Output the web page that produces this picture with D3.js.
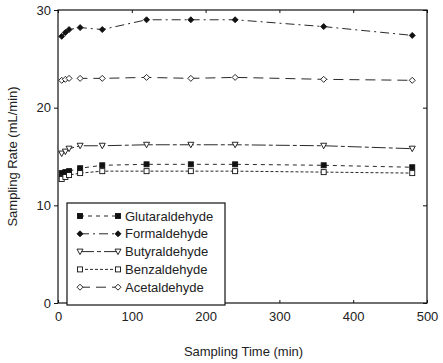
<!DOCTYPE html>
<html>
<head>
<meta charset="utf-8">
<script src="https://cdn.jsdelivr.net/npm/d3@7"></script>
<style>
  body { margin: 0; background: #fff; }
  svg { display: block; font-family: "Liberation Sans", Arial, sans-serif; }
</style>
</head>
<body>
<div id="chart"></div>
<script>
// ------------------
// Data
// ------------------
const times = [5, 10, 15, 30, 60, 120, 180, 240, 360, 480];
const glutaraldehyde = [13.3, 13.4, 13.5, 13.8, 14.1, 14.2, 14.2, 14.2, 14.1, 13.9];
const formaldehyde = [27.3, 27.7, 28.0, 28.2, 28.0, 29.0, 29.0, 29.0, 28.3, 27.4];
const butyraldehyde = [15.3, 15.5, 15.8, 16.1, 16.1, 16.2, 16.2, 16.2, 16.1, 15.8];
const benzaldehyde = [12.7, 12.9, 13.1, 13.3, 13.5, 13.5, 13.5, 13.5, 13.4, 13.3];
const acetaldehyde = [22.8, 22.9, 23.0, 23.0, 23.0, 23.1, 23.0, 23.1, 22.9, 22.8];
const xTicks = [0, 100, 200, 300, 400, 500];
const yTicks = [0, 10, 20, 30];

const series = [
  { name: "Glutaraldehyde", values: glutaraldehyde, marker: "square", fill: true, dash: "4,4" },
  { name: "Formaldehyde", values: formaldehyde, marker: "diamond", fill: true, dash: "9,4,2,4" },
  { name: "Butyraldehyde", values: butyraldehyde, marker: "triangle", fill: false, dash: "14,3,4,3" },
  { name: "Benzaldehyde", values: benzaldehyde, marker: "square", fill: false, dash: "3,2" },
  { name: "Acetaldehyde", values: acetaldehyde, marker: "diamond", fill: false, dash: "10,6" }
];

// ------------------
// Layout
// ------------------
const W = 443, H = 363;
const mLeft = 58, mRight = 427, mTop = 10, mBottom = 303;

const svg = d3.select("#chart").append("svg")
  .attr("width", W).attr("height", H);

const x = d3.scaleLinear().domain([0, 500]).range([mLeft, mRight]);
const y = d3.scaleLinear().domain([0, 30]).range([mBottom, mTop]);

const ink = "#111";

// frame
svg.append("rect")
  .attr("x", mLeft).attr("y", mTop)
  .attr("width", mRight - mLeft).attr("height", mBottom - mTop)
  .attr("fill", "none").attr("stroke", ink).attr("stroke-width", 1.2);

// axes
svg.append("g")
  .attr("transform", `translate(0,${mBottom})`)
  .call(d3.axisBottom(x).tickValues(xTicks).tickSizeInner(-3).tickSizeOuter(0).tickPadding(9));
svg.append("g")
  .attr("transform", `translate(${mLeft},0)`)
  .call(d3.axisLeft(y).tickValues(yTicks).tickSize(4).tickSizeOuter(0).tickPadding(3));
// inward ticks on top/right
svg.append("g").attr("transform", `translate(0,${mTop})`)
  .call(d3.axisTop(x).tickValues(xTicks).tickSizeInner(-3).tickSizeOuter(0).tickFormat(""));
svg.append("g").attr("transform", `translate(${mRight},0)`)
  .call(d3.axisRight(y).tickValues(yTicks).tickSizeInner(-4).tickSizeOuter(0).tickFormat(""));

svg.selectAll(".domain").remove();
svg.selectAll(".tick line").attr("stroke", ink);
svg.selectAll(".tick text")
  .attr("fill", "#222").style("font-size", "13px")
  .style("font-family", "'Liberation Sans', Arial, sans-serif");

// axis titles
svg.append("text")
  .attr("x", (mLeft + mRight) / 2 + 1).attr("y", 356)
  .attr("text-anchor", "middle").attr("fill", "#222")
  .style("font-size", "13px")
  .text("Sampling Time (min)");
svg.append("text")
  .attr("transform", `translate(17,${(mTop + mBottom) / 2}) rotate(-90)`)
  .attr("text-anchor", "middle").attr("fill", "#222")
  .style("font-size", "13px")
  .text("Sampling Rate (mL/min)");

// ------------------
// Markers
// ------------------
function drawMarker(g, type, filled, cx, cy) {
  let el;
  if (type === "square") {
    el = g.append("rect").attr("x", cx - 2.5).attr("y", cy - 2.5).attr("width", 5).attr("height", 5);
  } else if (type === "diamond") {
    el = g.append("path").attr("d", `M${cx},${cy - 3}L${cx + 3},${cy}L${cx},${cy + 3}L${cx - 3},${cy}Z`);
  } else {
    el = g.append("path").attr("d", `M${cx - 3},${cy - 2.5}L${cx + 3},${cy - 2.5}L${cx},${cy + 3}Z`);
  }
  el.attr("fill", filled ? ink : "#fff").attr("stroke", ink).attr("stroke-width", 0.9);
}

const line = d3.line().x(d => x(d[0])).y(d => y(d[1]));

series.forEach(s => {
  const pts = times.map((t, i) => [t, s.values[i]]);
  const g = svg.append("g");
  g.append("path")
    .attr("d", line(pts))
    .attr("fill", "none").attr("stroke", ink)
    .attr("stroke-width", 0.9).attr("stroke-dasharray", s.dash);
  pts.forEach(p => drawMarker(g, s.marker, s.fill, x(p[0]), y(p[1])));
});

// ------------------
// Legend
// ------------------
const lg = svg.append("g");
lg.append("rect")
  .attr("x", 67).attr("y", 203).attr("width", 158).attr("height", 102)
  .attr("fill", "#fff").attr("stroke", ink).attr("stroke-width", 1.2);

series.forEach((s, i) => {
  const ly = 216 + i * 17.8;
  lg.append("line")
    .attr("x1", 80).attr("x2", 118).attr("y1", ly).attr("y2", ly)
    .attr("stroke", ink).attr("stroke-width", 0.9).attr("stroke-dasharray", s.dash);
  drawMarker(lg, s.marker, s.fill, 80, ly);
  drawMarker(lg, s.marker, s.fill, 118, ly);
  lg.append("text")
    .attr("x", 125).attr("y", ly + 4.5)
    .attr("fill", "#222").style("font-size", "13px")
    .text(s.name);
});
</script>
</body>
</html>
